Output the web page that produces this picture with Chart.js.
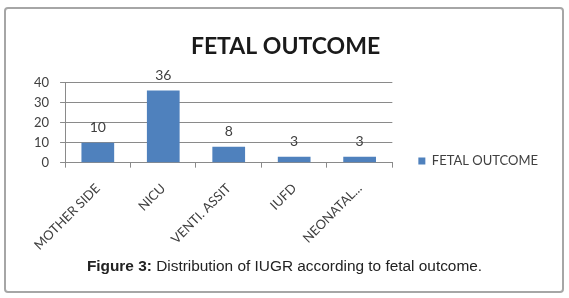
<!DOCTYPE html>
<html lang="en">
<head>
<meta charset="UTF-8">
<title>Fetal outcome</title>
<script src="https://cdn.jsdelivr.net/npm/chart.js"></script>
<style>
    body {
        margin: 0;
        width: 569px;
        height: 298px;
        position: relative;
        overflow: hidden;
        background: #fff;
    }
    #frame {
        position: absolute;
        left: 4px;
        top: 7px;
        width: 560px;
        height: 286px;
        box-sizing: border-box;
        border: 2px solid #a6a6a6;
        border-radius: 4px;
    }
    #fetalChart {
        position: absolute;
        left: 0;
        top: 0;
    }
    #caption {
        position: absolute;
        left: 0;
        top: 257px;
        width: 569px;
        text-align: center;
        font-family: "Liberation Sans", Arial, sans-serif;
        font-size: 15.4px;
        color: #222;
    }
</style>
</head>
<body>

<div id="frame"></div>
<canvas id="fetalChart" width="569" height="266"></canvas>
<div id="caption"><b>Figure 3:</b> Distribution of IUGR according to fetal outcome.</div>

<script>
    const categories = ['MOTHER SIDE', 'NICU', 'VENTI. ASSIT', 'IUFD', 'NEONATAL...'];
    const counts = [10, 36, 8, 3, 3];
    const seriesName = 'FETAL OUTCOME';
    const yMax = 40;
    const yStep = 10;

    const barColor = '#4f81bd';
    const gridColor = '#8a8a8a';
    const textColor = '#404040';

    // numbers above the bars, Excel style
    const valueLabels = {
        id: 'valueLabels',
        afterDatasetsDraw(chart) {
            const ctx = chart.ctx;
            const meta = chart.getDatasetMeta(0);
            ctx.save();
            ctx.font = '14px Lato';
            ctx.fillStyle = textColor;
            ctx.textAlign = 'center';
            ctx.textBaseline = 'middle';
            meta.data.forEach((bar, i) => {
                ctx.fillText(String(counts[i]), bar.x, bar.y - 15);
            });
            ctx.restore();
        }
    };

    new Chart(document.getElementById('fetalChart'), {
        type: 'bar',
        data: {
            labels: categories,
            datasets: [{
                label: seriesName,
                data: counts,
                backgroundColor: barColor,
                borderWidth: 0,
                barPercentage: 0.5,
                categoryPercentage: 1.0
            }]
        },
        options: {
            responsive: false,
            animation: false,
            devicePixelRatio: 1,
            layout: {
                padding: { left: 23, right: 21, top: 0, bottom: 0 }
            },
            plugins: {
                title: {
                    display: true,
                    text: 'FETAL OUTCOME',
                    color: '#1a1a1a',
                    font: { family: 'Lato', size: 23, weight: 'bold' },
                    padding: { top: 33, bottom: 22 }
                },
                legend: {
                    position: 'right',
                    align: 'start',
                    fullSize: true,
                    maxWidth: 200,
                    // empty title only used as a spacer so the entry sits level with the x axis
                    title: { display: true, text: '', padding: 57 },
                    labels: {
                        boxWidth: 7,
                        boxHeight: 7,
                        padding: 26,
                        color: textColor,
                        font: { family: 'Lato', size: 13 }
                    }
                },
                tooltip: { enabled: false }
            },
            scales: {
                x: {
                    grid: { drawOnChartArea: false, color: gridColor, tickLength: 5 },
                    border: { color: gridColor },
                    ticks: {
                        minRotation: 45,
                        maxRotation: 45,
                        padding: 13,
                        color: textColor,
                        font: { family: 'Lato', size: 13 }
                    }
                },
                y: {
                    min: 0,
                    max: yMax,
                    grid: { color: gridColor, tickLength: 5 },
                    border: { color: gridColor },
                    ticks: {
                        stepSize: yStep,
                        autoSkip: false,
                        padding: 11,
                        color: textColor,
                        font: { family: 'Lato', size: 13 }
                    }
                }
            }
        },
        plugins: [valueLabels]
    });
</script>
</body>
</html>
